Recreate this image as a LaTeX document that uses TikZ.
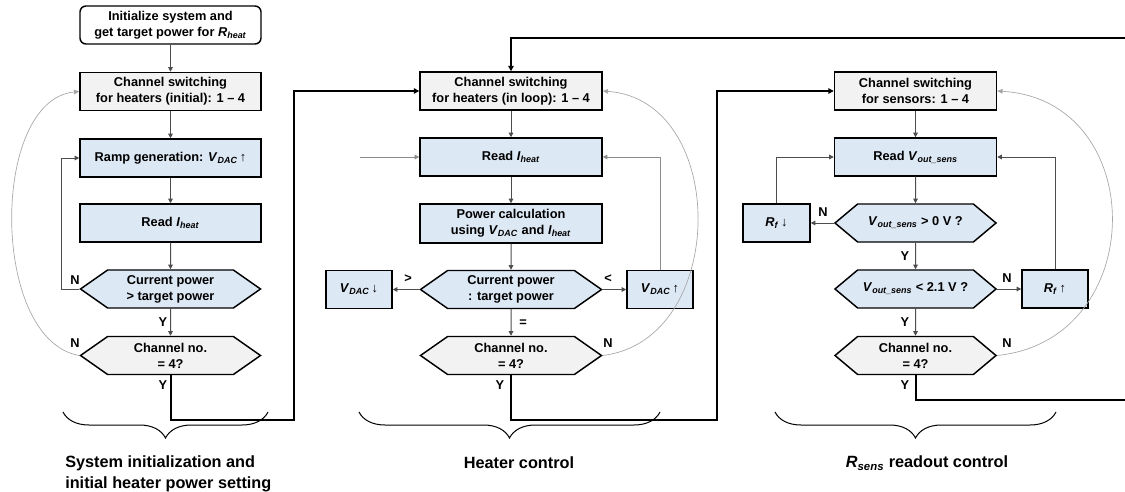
\documentclass[tikz,border=0pt]{standalone}
\usepackage{fontspec}
\setmainfont{Liberation Sans}
\usetikzlibrary{arrows.meta,shapes.symbols,decorations.pathreplacing}
\definecolor{boxgray}{HTML}{F2F2F2}
\definecolor{boxblue}{HTML}{DDE8F5}
\definecolor{conngray}{HTML}{4D4D4D}
\definecolor{midgray}{HTML}{8C8C8C}
\definecolor{curvegray}{HTML}{A6A6A6}
\newcommand\mysub[1]{\textsubscript{\textit{#1}}}
\newcommand\myup{{\mdseries\,↑}}
\newcommand\mydown{{\mdseries\,↓}}
\tikzset{
  box/.style={draw, line width=1.1pt, inner sep=0pt, align=center,
    font=\fontsize{9.6}{12}\bfseries\selectfont, minimum height=28.5pt},
  gbox/.style={box, fill=boxgray},
  bbox/.style={box, fill=boxblue},
  hexa/.style={signal, signal to=west and east, signal pointer angle=#1,
    draw, line width=1.1pt, inner sep=0pt, align=center,
    font=\fontsize{9.6}{12}\bfseries\selectfont, minimum height=28.5pt},
  conn/.style={draw=conngray, line width=0.75pt, -{Triangle[length=3.5pt,width=3.5pt]}},
  connl/.style={draw=midgray, line width=0.75pt, -{Triangle[length=3.5pt,width=3.5pt]}},
  loopln/.style={draw=black, line width=1.5pt, -{Triangle[length=4pt,width=4pt]}},
  looplnn/.style={draw=black, line width=1.5pt},
  curv/.style={draw=curvegray, line width=0.5pt, -{Triangle[length=4pt,width=3.5pt]}},
  lbl/.style={font=\fontsize{9.6}{12}\bfseries\selectfont, inner sep=0pt},
  brc/.style={decorate, decoration={brace, mirror, amplitude=19.5pt}, line width=0.75pt},
  captxt/.style={font=\fontsize{12.2}{16}\bfseries\selectfont, inner sep=0pt},
}
\begin{document}
\begin{tikzpicture}[x=0.75pt,y=-0.75pt]
\useasboundingbox (0,0) rectangle (1125,492);
% ---------- left column
\node[box, fill=white, rounded corners=4.5pt, minimum width=135.75pt] (init) at (170.5,25) {Initialize system and\\get target power for \textit{R}\mysub{heat}};
\node[gbox, minimum width=135.75pt] (sw1) at (170.5,91.5) {Channel switching\\for heaters (initial): 1 – 4};
\node[bbox, minimum width=135.75pt] (ramp) at (170.5,158) {Ramp generation: \textit{V}\mysub{DAC}\myup};
\node[bbox, minimum width=135.75pt] (read1) at (170.5,223) {Read \textit{I}\mysub{heat}};
\node[hexa=70, fill=boxblue, minimum width=135pt] (dec1) at (170.5,289) {Current power\\> target power};
\node[hexa=70, fill=boxgray, minimum width=135pt] (ch1) at (170.5,355.5) {Channel no.\\= 4?};
% ---------- middle column
\node[gbox, minimum width=136.5pt] (sw2) at (511,91) {Channel switching\\for heaters (in loop): 1 – 4};
\node[bbox, minimum width=136.5pt] (read2) at (511,157) {Read \textit{I}\mysub{heat}};
\node[bbox, minimum width=136.5pt, minimum height=29.25pt] (pc) at (511,223.5) {Power calculation\\using \textit{V}\mysub{DAC} and \textit{I}\mysub{heat}};
\node[hexa=70, fill=boxblue, minimum width=135.75pt] (dec2) at (511,289.5) {Current power\\: target power};
\node[bbox, minimum width=49.5pt] (vdn) at (359,289.5) {\textit{V}\mysub{DAC}\mydown};
\node[bbox, minimum width=49.5pt] (vup) at (660,289.5) {\textit{V}\mysub{DAC}\myup};
\node[hexa=70, fill=boxgray, minimum width=135.75pt] (ch2) at (511,355.5) {Channel no.\\= 4?};
% ---------- right column
\node[gbox, minimum width=121.5pt] (sw3) at (915.5,91) {Channel switching\\for sensors: 1 – 4};
\node[bbox, minimum width=121.5pt] (read3) at (915.5,157) {Read \textit{V}\mysub{out\_sens}};
\node[hexa=80, fill=boxblue, minimum width=120.75pt] (dec3) at (915.5,223) {\textit{V}\mysub{out\_sens} > 0 V ?};
\node[bbox, minimum width=50.25pt] (rfd) at (776.5,223) {\textit{R}\mysub{f}\mydown};
\node[hexa=80, fill=boxblue, minimum width=120.75pt] (dec4) at (915.5,289) {\textit{V}\mysub{out\_sens} < 2.1 V ?};
\node[bbox, minimum width=49.5pt] (rfu) at (1055,289) {\textit{R}\mysub{f}\myup};
\node[hexa=80, fill=boxgray, minimum width=120.75pt] (ch3) at (915.5,355.5) {Channel no.\\= 4?};
% ---------- coordinates
\coordinate (topR) at (1125,38);
\coordinate (botR) at (1125,400);
\coordinate (inL) at (360,157);
% ---------- left connectors
\draw[conn] (init) -- (sw1);
\draw[conn] (sw1) -- (ramp);
\draw[conn] (ramp) -- (read1);
\draw[conn] (read1) -- (dec1);
\draw[conn] (dec1) -- (ch1);
\draw[conn] (dec1.west) -- ++(-18,0) |- (ramp.west);
\draw[curv] (ch1.west) .. controls (-10,340) and (-10,100) .. (sw1.west);
\draw[loopln] (ch1.south) -- ++(0,44.5) -| (294,91) -- (sw2.west);
\node[lbl] (n1) at (75,280) {N};
\node[lbl] (y1) at (163,322) {Y};
\node[lbl] (n2) at (75,343) {N};
\node[lbl] (y2) at (163,385) {Y};
% ---------- middle connectors
\draw[loopln] (topR) -| (sw2.north);
\draw[conn] (sw2) -- (read2);
\draw[connl] (inL) -- (read2.west);
\draw[conn] (read2) -- (pc);
\draw[conn] (pc) -- (dec2);
\draw[conn] (dec2.west) -- (vdn.east);
\draw[conn] (dec2.east) -- (vup.west);
\draw[connl] (vup.north) |- (read2.east);
\draw[conn] (dec2) -- (ch2);
\draw[curv] (ch2.east) .. controls (729,340) and (729,100) .. (sw2.east);
\draw[loopln] (ch2.south) -- ++(0,44.5) -| (717,91) -- (sw3.west);
\node[lbl] (gt) at (408,279) {>};
\node[lbl] (lt) at (608,279) {<};
\node[lbl] (eq) at (523,323) {=};
\node[lbl] (n3) at (608,343) {N};
\node[lbl] (y3) at (500,385) {Y};
% ---------- right connectors
\draw[conn] (sw3) -- (read3);
\draw[conn] (read3) -- (dec3);
\draw[conn] (dec3.west) -- (rfd.east);
\draw[conn] (rfd.north) |- (read3.west);
\draw[conn] (dec3) -- (dec4);
\draw[conn] (dec4.east) -- (rfu.west);
\draw[conn] (rfu.north) |- (read3.east);
\draw[conn] (dec4) -- (ch3);
\draw[curv] (ch3.east) .. controls (1150,340) and (1150,100) .. (sw3.east);
\draw[looplnn] (ch3.south) |- (botR);
\node[lbl] (n4) at (823,212) {N};
\node[lbl] (y4) at (905,256) {Y};
\node[lbl] (n5) at (1007,278) {N};
\node[lbl] (y5) at (905,322) {Y};
\node[lbl] (n6) at (1007,343) {N};
\node[lbl] (y6) at (905,385) {Y};
% ---------- braces and captions
\draw[brc] (63,412) -- (268,412);
\draw[brc] (359,412) -- (660,412);
\draw[brc] (775,412) -- (1056,412);
\node[captxt, anchor=north west, align=left] (c1) at (65,455) {System initialization and\\initial heater power setting};
\node[captxt] (c2) at (519,463) {Heater control};
\node[captxt] (c3) at (927,463) {\textit{R}\mysub{sens} readout control};
\end{tikzpicture}
\end{document}
